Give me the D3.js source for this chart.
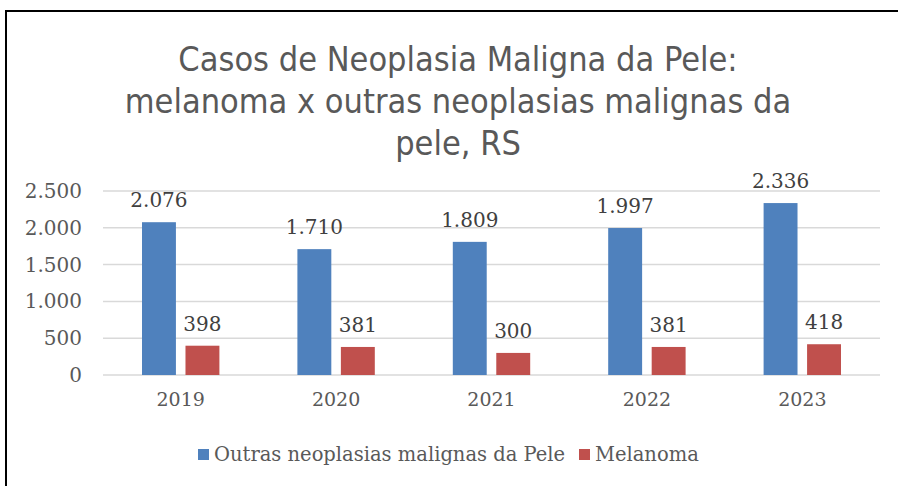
<!DOCTYPE html>
<html>
<head>
<meta charset="utf-8">
<script src="https://cdn.jsdelivr.net/npm/d3@7"></script>
<style>
  body { margin: 0; background: #fff; }
  svg { display: block; }
</style>
</head>
<body>
<div id="chart"></div>
<script>
// Data
var years = ["2019", "2020", "2021", "2022", "2023"];
var outrasValues = [2076, 1710, 1809, 1997, 2336];
var melanomaValues = [398, 381, 300, 381, 418];
var seriesNames = ["Outras neoplasias malignas da Pele", "Melanoma"];
var seriesColors = ["#4F81BD", "#C0504D"];
var yTicks = [0, 500, 1000, 1500, 2000, 2500];
var titleLines = ["Casos de Neoplasia Maligna da Pele:", "melanoma x outras neoplasias malignas da", "pele, RS"];

var svgWidth = 898;
var svgHeight = 486;
var margin = { top: 191, right: 18, bottom: 111, left: 103 };
var chartWidth = svgWidth - margin.left - margin.right;
var chartHeight = svgHeight - margin.top - margin.bottom;

var ptBR = d3.formatLocale({ decimal: ",", thousands: ".", grouping: [3], currency: ["R$", ""] });
var fmt = ptBR.format(",d");

var serif = "'DejaVu Serif', serif";

var svg = d3.select("#chart")
  .append("svg")
  .attr("width", svgWidth)
  .attr("height", svgHeight);

// chart border
svg.append("rect")
  .attr("x", 6)
  .attr("y", 11)
  .attr("width", svgWidth + 10)
  .attr("height", svgHeight + 10)
  .attr("fill", "#fff")
  .attr("stroke", "#000")
  .attr("stroke-width", 2);

// title
svg.append("text")
  .attr("text-anchor", "middle")
  .attr("fill", "#595959")
  .style("font-family", "'DejaVu Sans Condensed', sans-serif")
  .style("font-size", "34px")
  .selectAll("tspan")
  .data(titleLines)
  .enter()
  .append("tspan")
  .attr("x", 458)
  .attr("y", function(d, i) { return 71 + i * 42; })
  .text(function(d) { return d; });

var chartGroup = svg.append("g")
  .attr("transform", `translate(${margin.left}, ${margin.top})`);

var x0 = d3.scaleBand()
  .domain(years)
  .range([0, chartWidth]);

var x1 = d3.scaleBand()
  .domain(seriesNames)
  .range([39, x0.bandwidth() - 39])
  .paddingInner(0.22);

var y = d3.scaleLinear()
  .domain([0, 2500])
  .range([chartHeight, 0]);

// gridlines
chartGroup.append("g")
  .selectAll("line")
  .data(yTicks)
  .enter()
  .append("line")
  .attr("x1", 0)
  .attr("x2", chartWidth)
  .attr("y1", d => y(d))
  .attr("y2", d => y(d))
  .attr("stroke", "#d9d9d9")
  .attr("stroke-width", 1.5);

// y axis labels
var leftAxis = d3.axisLeft(y).tickValues(yTicks).tickSize(0).tickPadding(21).tickFormat(fmt);
var yAxisG = chartGroup.append("g").call(leftAxis);
yAxisG.select(".domain").remove();
yAxisG.selectAll("text")
  .style("font-family", serif)
  .style("font-size", "20px")
  .attr("fill", "#595959");

// x axis labels
var bottomAxis = d3.axisBottom(x0).tickSize(0).tickPadding(18);
var xAxisG = chartGroup.append("g")
  .attr("transform", `translate(0, ${chartHeight})`)
  .call(bottomAxis);
xAxisG.select(".domain").remove();
xAxisG.selectAll("text")
  .style("font-family", serif)
  .style("font-size", "19px")
  .attr("fill", "#595959");

var rows = [];
years.forEach(function(yr, i) {
  rows.push({ year: yr, series: seriesNames[0], value: outrasValues[i], color: seriesColors[0] });
  rows.push({ year: yr, series: seriesNames[1], value: melanomaValues[i], color: seriesColors[1] });
});

// bars
chartGroup.append("g")
  .selectAll("rect")
  .data(rows)
  .enter()
  .append("rect")
  .attr("x", d => x0(d.year) + x1(d.series))
  .attr("y", d => y(d.value))
  .attr("width", x1.bandwidth())
  .attr("height", d => chartHeight - y(d.value))
  .attr("fill", d => d.color);

// value labels
chartGroup.append("g")
  .selectAll("text")
  .data(rows)
  .enter()
  .append("text")
  .attr("x", d => x0(d.year) + x1(d.series) + x1.bandwidth() / 2)
  .attr("y", d => y(d.value) - 15)
  .attr("text-anchor", "middle")
  .style("font-family", serif)
  .style("font-size", "20px")
  .attr("fill", "#404040")
  .text(d => fmt(d.value));

// legend
var legendX = [198, 579];
var legend = svg.append("g")
  .selectAll("g")
  .data(seriesNames)
  .enter()
  .append("g")
  .attr("transform", (d, i) => `translate(${legendX[i]}, 449)`);

legend.append("rect")
  .attr("width", 11)
  .attr("height", 11)
  .attr("fill", (d, i) => seriesColors[i]);

legend.append("text")
  .attr("x", 16)
  .attr("y", 12)
  .style("font-family", serif)
  .style("font-size", "19.5px")
  .attr("fill", "#595959")
  .text(d => d);
</script>
</body>
</html>
